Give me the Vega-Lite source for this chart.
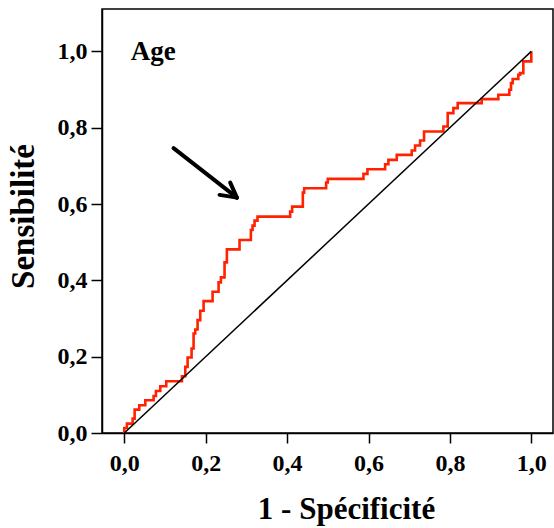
{
  "$schema": "https://vega.github.io/schema/vega-lite/v6.json",
  "autosize": {"type": "none"},
  "width": 451,
  "height": 424,
  "padding": {"left": 102, "top": 9, "right": 1, "bottom": 95},
  "background": "white",
  "config": {
    "view": {"stroke": "#000", "strokeWidth": 1.5},
    "font": "Liberation Serif"
  },
  "datasets": {
    "roc": [
      {"i": 0, "fpr": 0.0, "tpr": 0.0},
      {"i": 1, "fpr": 0.0065, "tpr": 0.0131},
      {"i": 2, "fpr": 0.0205, "tpr": 0.0245},
      {"i": 3, "fpr": 0.0254, "tpr": 0.0376},
      {"i": 4, "fpr": 0.0368, "tpr": 0.0612},
      {"i": 5, "fpr": 0.0516, "tpr": 0.0726},
      {"i": 6, "fpr": 0.072, "tpr": 0.0857},
      {"i": 7, "fpr": 0.0777, "tpr": 0.0971},
      {"i": 8, "fpr": 0.0884, "tpr": 0.1102},
      {"i": 9, "fpr": 0.1031, "tpr": 0.1225},
      {"i": 10, "fpr": 0.1416, "tpr": 0.1356},
      {"i": 11, "fpr": 0.1498, "tpr": 0.1487},
      {"i": 12, "fpr": 0.1555, "tpr": 0.1732},
      {"i": 13, "fpr": 0.1653, "tpr": 0.1977},
      {"i": 14, "fpr": 0.1702, "tpr": 0.2213},
      {"i": 15, "fpr": 0.1743, "tpr": 0.2607},
      {"i": 16, "fpr": 0.18, "tpr": 0.2712},
      {"i": 17, "fpr": 0.1866, "tpr": 0.2957},
      {"i": 18, "fpr": 0.1948, "tpr": 0.3202},
      {"i": 19, "fpr": 0.2169, "tpr": 0.3456},
      {"i": 20, "fpr": 0.2316, "tpr": 0.3701},
      {"i": 21, "fpr": 0.2373, "tpr": 0.3946},
      {"i": 22, "fpr": 0.2463, "tpr": 0.4077},
      {"i": 23, "fpr": 0.252, "tpr": 0.4471},
      {"i": 24, "fpr": 0.2831, "tpr": 0.4812},
      {"i": 25, "fpr": 0.311, "tpr": 0.5057},
      {"i": 26, "fpr": 0.3151, "tpr": 0.5319},
      {"i": 27, "fpr": 0.32, "tpr": 0.5433},
      {"i": 28, "fpr": 0.3273, "tpr": 0.5564},
      {"i": 29, "fpr": 0.4075, "tpr": 0.5669},
      {"i": 30, "fpr": 0.4124, "tpr": 0.5801},
      {"i": 31, "fpr": 0.4386, "tpr": 0.5932},
      {"i": 32, "fpr": 0.4419, "tpr": 0.6299},
      {"i": 33, "fpr": 0.4959, "tpr": 0.6413},
      {"i": 34, "fpr": 0.5, "tpr": 0.6562},
      {"i": 35, "fpr": 0.5876, "tpr": 0.6658},
      {"i": 36, "fpr": 0.5974, "tpr": 0.6789},
      {"i": 37, "fpr": 0.6408, "tpr": 0.6912},
      {"i": 38, "fpr": 0.6489, "tpr": 0.7043},
      {"i": 39, "fpr": 0.6694, "tpr": 0.7157},
      {"i": 40, "fpr": 0.7062, "tpr": 0.7288},
      {"i": 41, "fpr": 0.7144, "tpr": 0.7402},
      {"i": 42, "fpr": 0.7267, "tpr": 0.7533},
      {"i": 43, "fpr": 0.7365, "tpr": 0.7664},
      {"i": 44, "fpr": 0.784, "tpr": 0.79},
      {"i": 45, "fpr": 0.7946, "tpr": 0.8031},
      {"i": 46, "fpr": 0.8085, "tpr": 0.8381},
      {"i": 47, "fpr": 0.8191, "tpr": 0.8513},
      {"i": 48, "fpr": 0.8781, "tpr": 0.8644},
      {"i": 49, "fpr": 0.919, "tpr": 0.8749},
      {"i": 50, "fpr": 0.946, "tpr": 0.8863},
      {"i": 51, "fpr": 0.9501, "tpr": 0.8994},
      {"i": 52, "fpr": 0.9542, "tpr": 0.9169},
      {"i": 53, "fpr": 0.9681, "tpr": 0.9274},
      {"i": 54, "fpr": 0.9722, "tpr": 0.9388},
      {"i": 55, "fpr": 0.9804, "tpr": 0.9431},
      {"i": 56, "fpr": 1.0, "tpr": 0.9738},
      {"i": 57, "fpr": 1.0, "tpr": 1.0}
    ],
    "diag": [{"x": 0, "y": 0, "x2": 1, "y2": 1}],
    "arrow": [
      {"x": 0.121, "y": 0.7465, "x2": 0.2767, "y2": 0.6168},
      {"x": 0.234, "y": 0.6239, "x2": 0.2767, "y2": 0.6168},
      {"x": 0.2602, "y": 0.6562, "x2": 0.2767, "y2": 0.6168}
    ],
    "label": [{"x": 0.0712, "y": 0.978, "text": "Age"}]
  },
  "layer": [
    {
      "data": {"name": "roc"},
      "mark": {"type": "line", "color": "#ff2200", "strokeWidth": 2.6, "interpolate": "step-before", "strokeJoin": "miter"},
      "encoding": {
        "x": {
          "field": "fpr", "type": "quantitative",
          "scale": {"domain": [-0.0548, 1.0533], "nice": false, "zero": false},
          "axis": {
            "values": [0, 0.2, 0.4, 0.6, 0.8, 1.0],
            "labelExpr": "replace(format(datum.value, '.1f'), '.', ',')",
            "grid": false,
            "domainColor": "#000", "domainWidth": 1.5,
            "tickColor": "#000", "tickWidth": 1.5, "tickSize": 10,
            "labelFont": "Liberation Serif", "labelFontWeight": "bold", "labelFontSize": 24, "labelColor": "#000",
            "labelPadding": 8, "labelDx": 3,
            "title": "1 - Spécificité",
            "titleFont": "Liberation Serif", "titleFontWeight": "bold", "titleFontSize": 31, "titleColor": "#000",
            "titleX": 244, "titleY": 85, "titleBaseline": "alphabetic", "titleAnchor": "middle", "titleAlign": "center"
          }
        },
        "y": {
          "field": "tpr", "type": "quantitative",
          "scale": {"domain": [0, 1.111], "nice": false, "zero": false},
          "axis": {
            "values": [0, 0.2, 0.4, 0.6, 0.8, 1.0],
            "labelExpr": "replace(format(datum.value, '.1f'), '.', ',')",
            "grid": false,
            "domainColor": "#000", "domainWidth": 1.5,
            "tickColor": "#000", "tickWidth": 1.5, "tickSize": 11,
            "labelFont": "Liberation Serif", "labelFontWeight": "bold", "labelFontSize": 24, "labelColor": "#000",
            "labelPadding": 4, "labelDy": 1,
            "title": "Sensibilité",
            "titleFont": "Liberation Serif", "titleFontWeight": "bold", "titleFontSize": 33, "titleColor": "#000",
            "titleAngle": -90, "titleX": -69, "titleY": 207, "titleBaseline": "alphabetic", "titleAlign": "center"
          }
        },
        "order": {"field": "i", "type": "quantitative"}
      }
    },
    {
      "data": {"name": "diag"},
      "mark": {"type": "rule", "color": "#000", "strokeWidth": 1.5},
      "encoding": {
        "x": {"field": "x", "type": "quantitative", "scale": {"domain": [-0.0548, 1.0533], "nice": false, "zero": false}},
        "y": {"field": "y", "type": "quantitative", "scale": {"domain": [0, 1.111], "nice": false, "zero": false}},
        "x2": {"field": "x2"},
        "y2": {"field": "y2"}
      }
    },
    {
      "data": {"name": "arrow"},
      "mark": {"type": "rule", "color": "#000", "strokeWidth": 4, "strokeCap": "round"},
      "encoding": {
        "x": {"field": "x", "type": "quantitative", "scale": {"domain": [-0.0548, 1.0533], "nice": false, "zero": false}},
        "y": {"field": "y", "type": "quantitative", "scale": {"domain": [0, 1.111], "nice": false, "zero": false}},
        "x2": {"field": "x2"},
        "y2": {"field": "y2"}
      }
    },
    {
      "data": {"name": "label"},
      "mark": {"type": "text", "font": "Liberation Serif", "fontWeight": "bold", "fontSize": 27, "color": "#000", "align": "center", "baseline": "alphabetic"},
      "encoding": {
        "x": {"field": "x", "type": "quantitative", "scale": {"domain": [-0.0548, 1.0533], "nice": false, "zero": false}},
        "y": {"field": "y", "type": "quantitative", "scale": {"domain": [0, 1.111], "nice": false, "zero": false}},
        "text": {"field": "text"}
      }
    }
  ]
}
